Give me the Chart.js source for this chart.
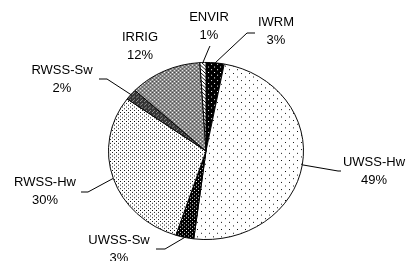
<!DOCTYPE html>
<html>
<head>
  <title>Budget share by subsector</title>
  <script src="https://cdn.jsdelivr.net/npm/chart.js"></script>
  <style>
    body { margin: 0; background: #fff; }
    #wrap { width: 407px; height: 261px; }
  </style>
</head>
<body>
  <div id="wrap"><canvas id="pie" width="407" height="261"></canvas></div>

  <script>
    // values (percent of total)
    const categories = ['IWRM', 'UWSS-Hw', 'UWSS-Sw', 'RWSS-Hw', 'RWSS-Sw', 'IRRIG', 'ENVIR'];
    const shares = [3, 49, 3, 30, 2, 12, 1];

    // where each label sits and where its leader line ends (null = no leader)
    const labelPos = [
      { x: 276, y: 22, line: [[247, 33], [255, 33]] },
      { x: 374, y: 162, line: [[338, 171], [341, 171]] },
      { x: 119, y: 240, line: [[165, 249], [156, 249]] },
      { x: 45, y: 182, line: [[88, 192], [81, 192]] },
      { x: 62, y: 70, line: [[107, 79], [99, 79]] },
      { x: 140, y: 37, line: null },
      { x: 209, y: 17, line: [[209, 48], [210, 46]] }
    ];

    const squash = 89 / 98; // the original pie is a bit wider than tall

    // small tiles used as fill patterns, like the old black & white office charts
    function tile(w, h, bg, draw) {
      const c = document.createElement('canvas');
      c.width = w; c.height = h;
      const g = c.getContext('2d');
      g.fillStyle = bg;
      g.fillRect(0, 0, w, h);
      draw(g);
      return document.createElement('canvas').getContext('2d').createPattern(c, 'repeat');
    }
    function px(g, col, pts) {
      g.fillStyle = col;
      pts.forEach(p => g.fillRect(p[0], p[1], 1, 1));
    }

    const fills = [
      tile(6, 6, '#000', g => px(g, '#fff', [[1, 1], [4, 4]])),
      tile(8, 8, '#fff', g => px(g, '#000', [[1, 1], [5, 5]])),
      tile(4, 4, '#000', g => px(g, '#fff', [[0, 0], [2, 2]])),
      tile(4, 4, '#fff', g => px(g, '#000', [[0, 0], [2, 2]])),
      tile(4, 4, '#333', g => px(g, '#999', [[0, 0], [2, 2], [1, 3]])),
      tile(4, 4, '#8a8a8a', g => { px(g, '#fff', [[0, 0], [2, 2]]); px(g, '#444', [[2, 0], [0, 2]]); }),
      tile(4, 4, '#fff', g => px(g, '#000', [[0, 0], [1, 1], [2, 2], [3, 3]]))
    ];

    const squashPlugin = {
      id: 'squash',
      beforeDatasetsDraw(chart) {
        const arc = chart.getDatasetMeta(0).data[0];
        const ctx = chart.ctx;
        ctx.save();
        ctx.translate(arc.x, arc.y);
        ctx.scale(1, squash);
        ctx.translate(-arc.x, -arc.y);
      },
      afterDatasetsDraw(chart) {
        chart.ctx.restore();
      }
    };

    const labelPlugin = {
      id: 'outLabels',
      afterDraw(chart) {
        const ctx = chart.ctx;
        const data = chart.data.datasets[0].data;
        const total = data.reduce((a, b) => a + b, 0);
        ctx.save();
        ctx.strokeStyle = '#000';
        ctx.lineWidth = 1;
        ctx.fillStyle = '#000';
        ctx.font = '13px "Liberation Sans", Arial, sans-serif';
        ctx.textAlign = 'center';
        ctx.textBaseline = 'middle';
        chart.getDatasetMeta(0).data.forEach((arc, i) => {
          const lp = labelPos[i];
          if (lp.line) {
            const mid = (arc.startAngle + arc.endAngle) / 2;
            const sx = arc.x + Math.cos(mid) * arc.outerRadius;
            const sy = arc.y + Math.sin(mid) * arc.outerRadius * squash;
            ctx.beginPath();
            ctx.moveTo(sx, sy);
            lp.line.forEach(p => ctx.lineTo(p[0], p[1]));
            ctx.stroke();
          }
          ctx.fillText(chart.data.labels[i], lp.x, lp.y);
          ctx.fillText(Math.round(data[i] / total * 100) + '%', lp.x, lp.y + 18);
        });
        ctx.restore();
      }
    };

    new Chart(document.getElementById('pie'), {
      type: 'pie',
      data: {
        labels: categories,
        datasets: [{
          data: shares,
          backgroundColor: fills,
          borderColor: '#000',
          borderWidth: 1
        }]
      },
      options: {
        responsive: false,
        animation: false,
        layout: { padding: { left: 108, right: 103, top: 53, bottom: 12 } },
        plugins: {
          legend: { display: false },
          tooltip: { enabled: false }
        }
      },
      plugins: [squashPlugin, labelPlugin]
    });
  </script>
</body>
</html>
